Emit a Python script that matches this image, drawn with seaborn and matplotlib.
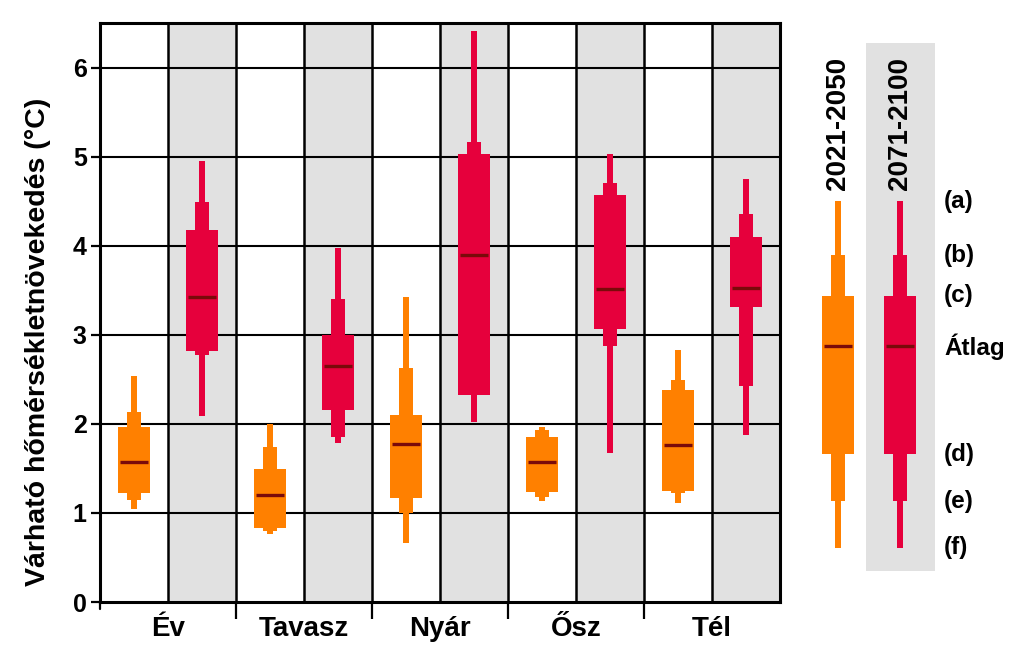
import numpy as np
import pandas as pd
import matplotlib
matplotlib.use("Agg")
import matplotlib.pyplot as plt
import seaborn as sns

# ---------------- data ----------------
seasons = ["Év", "Tavasz", "Nyár", "Ősz", "Tél"]
periods = ["2021-2050", "2071-2100"]

# 2021-2050 (orange)
p1_f = [1.04, 0.76, 0.66, 1.13, 1.11]     # (f) lowest
p1_e = [1.14, 0.80, 1.00, 1.18, 1.22]     # (e)
p1_d = [1.22, 0.83, 1.17, 1.24, 1.25]     # (d)
p1_mean = [1.57, 1.20, 1.77, 1.57, 1.76]  # Átlag
p1_c = [1.96, 1.49, 2.10, 1.85, 2.38]     # (c)
p1_b = [2.13, 1.74, 2.63, 1.93, 2.49]     # (b)
p1_a = [2.54, 2.00, 3.42, 1.96, 2.83]     # (a) highest

# 2071-2100 (red)
p2_f = [2.09, 1.78, 2.02, 1.67, 1.88]
p2_e = [2.77, 1.85, 2.32, 2.87, 2.42]
p2_d = [2.82, 2.16, 2.32, 3.07, 3.31]
p2_mean = [3.42, 2.65, 3.89, 3.51, 3.53]
p2_c = [4.18, 3.00, 5.03, 4.57, 4.10]
p2_b = [4.49, 3.40, 5.16, 4.70, 4.36]
p2_a = [4.95, 3.97, 6.41, 5.03, 4.75]

# legend example (same scale)
legend_levels = ["(f)", "(e)", "(d)", "Átlag", "(c)", "(b)", "(a)"]
legend_values = [0.61, 1.13, 1.66, 2.87, 3.44, 3.89, 4.50]

y_ticks = [0, 1, 2, 3, 4, 5, 6]
y_label = "Várható hőmérsékletnövekedés (°C)"

# ---------------- styling ----------------
ORANGE = "#FF8000"
RED = "#E6003C"
MEANC = "#7A0A0A"
GRAY = "#E1E1E1"
W_WIDE, W_MED, W_THIN = 0.46, 0.22, 0.075

df = pd.DataFrame({
    "season": seasons * 2,
    "period": [periods[0]] * 5 + [periods[1]] * 5,
    "f": p1_f + p2_f, "e": p1_e + p2_e, "d": p1_d + p2_d,
    "mean": p1_mean + p2_mean,
    "c": p1_c + p2_c, "b": p1_b + p2_b, "a": p1_a + p2_a,
})
pal = {periods[0]: ORANGE, periods[1]: RED}

sns.set_theme(style="white")
plt.rcParams["font.family"] = ["Liberation Sans", "DejaVu Sans"]
plt.rcParams["font.weight"] = "bold"
plt.rcParams["text.color"] = "black"
plt.rcParams["axes.labelcolor"] = "black"
plt.rcParams["xtick.color"] = "black"
plt.rcParams["ytick.color"] = "black"

fig = plt.figure(figsize=(10.24, 6.60), dpi=100)
H0, H1 = 58 / 660, (602 - 23) / 660
ax = fig.add_axes([100 / 1024, H0, 680 / 1024, H1])

YMAX = 6.5
ax.set_xlim(-0.5, 9.5)
ax.set_ylim(0, YMAX)

# gray background columns
for g in range(len(seasons)):
    ax.axvspan(2 * g + 0.5, 2 * g + 1.5, color=GRAY, zorder=0, lw=0)

# grid
for yv in y_ticks[1:]:
    ax.axhline(yv, color="black", lw=1.5, zorder=1)
for k in range(9):
    ax.axvline(k + 0.5, color="black", lw=1.8, zorder=1)


def draw_box(axis, x, f, e, d, m, c, b, a, color):
    axis.bar(x, a - f, bottom=f, width=W_THIN, color=color, lw=0, zorder=3)
    axis.bar(x, b - e, bottom=e, width=W_MED, color=color, lw=0, zorder=3)
    axis.bar(x, c - d, bottom=d, width=W_WIDE, color=color, lw=0, zorder=3)
    axis.hlines(m, x - W_WIDE * 0.44, x + W_WIDE * 0.44, color=MEANC, lw=2.4, zorder=4)


for i, row in df.iterrows():
    g = seasons.index(row["season"])
    p = periods.index(row["period"])
    draw_box(ax, 2 * g + p, row["f"], row["e"], row["d"], row["mean"],
             row["c"], row["b"], row["a"], pal[row["period"]])

# axes decorations
for s in ax.spines.values():
    s.set_visible(True)
    s.set_color("black")
    s.set_linewidth(2.2)
    s.set_zorder(5)

ax.set_yticks(y_ticks)
ax.set_yticklabels([str(t) for t in y_ticks], fontsize=18, fontweight="bold")
ax.tick_params(axis="y", direction="out", length=6.5, width=1.6, pad=3, left=True, color="black")
ax.set_xticks([2 * g + 0.5 for g in range(len(seasons))])
ax.set_xticklabels(seasons, fontsize=20, fontweight="bold")
ax.set_xticks([1.5, 3.5, 5.5, 7.5], minor=True)
ax.tick_params(axis="x", which="major", length=0, pad=10)
ax.tick_params(axis="x", which="minor", direction="out", length=12, width=1.6, bottom=True, color="black")
ax.plot([0, 0], [0, -0.012], transform=ax.transAxes, color="black", lw=1.6, clip_on=False)

ax.set_ylabel(y_label, fontsize=20.5, fontweight="bold")
ax.yaxis.set_label_coords(-0.072, 0.45)

# ---------------- legend panel ----------------
lax = fig.add_axes([800 / 1024, H0, 224 / 1024, H1])
lax.set_xlim(0, 224 / 68)
lax.set_ylim(0, YMAX)
lax.axis("off")
lax.axvspan(66 / 68, 135 / 68, ymin=0.35 / YMAX, ymax=6.27 / YMAX, color=GRAY, lw=0, zorder=0)

lv = dict(zip(legend_levels, legend_values))
for xpos, col, per in [(38 / 68, ORANGE, periods[0]), (100 / 68, RED, periods[1])]:
    draw_box(lax, xpos, lv["(f)"], lv["(e)"], lv["(d)"], lv["Átlag"],
             lv["(c)"], lv["(b)"], lv["(a)"], col)
    lax.text(xpos, lv["(a)"] + 0.12, per, rotation=90, ha="center", va="bottom",
             fontsize=20, fontweight="bold")

for name, val in zip(legend_levels, legend_values):
    lax.text(144 / 68, val, name, ha="left", va="center", fontsize=17.5, fontweight="bold")

fig.savefig("out.png", dpi=100)
